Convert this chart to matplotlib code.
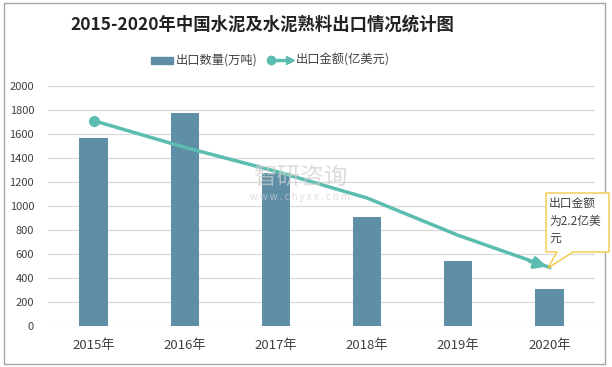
import matplotlib.pyplot as plt
import numpy as np
from matplotlib.patches import Rectangle, Polygon

plt.rcParams['font.family'] = ['Noto Sans CJK SC', 'DejaVu Sans']

years = ['2015年', '2016年', '2017年', '2018年', '2019年', '2020年']
volume = [1570, 1775, 1275, 905, 542, 308]      # 出口数量(万吨)
value = [7.7, 6.7, 5.8, 4.8, 3.4, 2.2]          # 出口金额(亿美元)

bar_color = '#5E8FA6'
line_color = '#5BBDB0'

fig = plt.figure(figsize=(6.12, 3.67), dpi=100)
ax = fig.add_axes([48 / 612, 1 - 326 / 367, 547 / 612, 240 / 367])

x = np.arange(len(years))
ax.bar(x, volume, width=0.31, color=bar_color, zorder=2)
ax.set_xlim(-0.5, 5.5)
ax.set_ylim(0, 2000)
ax.set_yticks(range(0, 2001, 200))
ax.set_xticks(x)
ax.set_xticklabels(years, fontsize=9.5, color='#404040')
ax.tick_params(axis='y', labelsize=8, colors='#404040', length=0, pad=10)
ax.tick_params(axis='x', length=0, pad=9)
ax.grid(axis='y', color='#D9D9D9', linewidth=0.9, zorder=0)
for s in ax.spines.values():
    s.set_visible(False)

# line on hidden secondary axis (0-9)
ax2 = ax.twinx()
ax2.set_ylim(0, 9)
ax2.axis('off')
ax2.plot(x, value, color=line_color, linewidth=2.5, zorder=3)
ax2.plot(x[0], value[0], 'o', color=line_color, markersize=7, zorder=4)
ax2.annotate('', xy=(x[-1], value[-1]), xytext=(x[-1] - 0.25, value[-1] + 0.26),
             arrowprops=dict(arrowstyle='-|>,head_length=0.7,head_width=0.35',
                             color=line_color, lw=2.5), zorder=4)

# callout box
box = Polygon([(546 / 612, 1 - 193 / 367), (609 / 612, 1 - 193 / 367),
               (609 / 612, 1 - 252 / 367), (573 / 612, 1 - 252 / 367),
               (548 / 612, 1 - 268 / 367), (557 / 612, 1 - 252 / 367),
               (546 / 612, 1 - 252 / 367)], closed=True,
              transform=fig.transFigure, facecolor='white', edgecolor='#F2C231',
              linewidth=0.9, zorder=5)
fig.patches.append(box)
fig.text(549 / 612, 1 - 197 / 367, '出口金额\n为2.2亿美\n元', fontsize=8.5,
         va='top', ha='left', color='#404040', linespacing=1.45, zorder=6)

# watermark
fig.text(300 / 612, 1 - 178 / 367, '智研咨询', fontsize=17, color='#CFCFCF',
         ha='center', va='center', alpha=0.7)
fig.text(300 / 612, 1 - 197 / 367, 'w w w . c h y x x . c o m', fontsize=7,
         color='#CFCFCF', ha='center', va='center', alpha=0.7)

# title and legend
fig.text(262 / 612, 1 - 25 / 367, '2015-2020年中国水泥及水泥熟料出口情况统计图',
         fontsize=12.5, fontweight='bold', ha='center', va='center', color='#222222')
fig.patches.append(Rectangle((151 / 612, 1 - 64 / 367), 22 / 612, 7 / 367,
                             transform=fig.transFigure, color=bar_color))
fig.text(176 / 612, 1 - 60 / 367, '出口数量(万吨)', fontsize=8.8, va='center',
         color='#404040')
fig.lines.append(plt.Line2D([272 / 612, 288 / 612], [1 - 60 / 367, 1 - 60 / 367],
                            transform=fig.transFigure, color=line_color, lw=2.5))
fig.lines.append(plt.Line2D([271 / 612], [1 - 60 / 367], marker='o', markersize=6,
                            transform=fig.transFigure, color=line_color))
fig.lines.append(plt.Line2D([290 / 612], [1 - 60 / 367], marker='>', markersize=6,
                            transform=fig.transFigure, color=line_color))
fig.text(296 / 612, 1 - 60 / 367, '出口金额(亿美元)', fontsize=8.8, va='center',
         color='#404040')

# outer frame
fig.patches.append(Rectangle((4 / 612, 3 / 367), 601 / 612, 361 / 367,
                             transform=fig.transFigure, fill=False,
                             edgecolor='#A6A6A6', linewidth=1))

fig.savefig('out.png', dpi=100)
